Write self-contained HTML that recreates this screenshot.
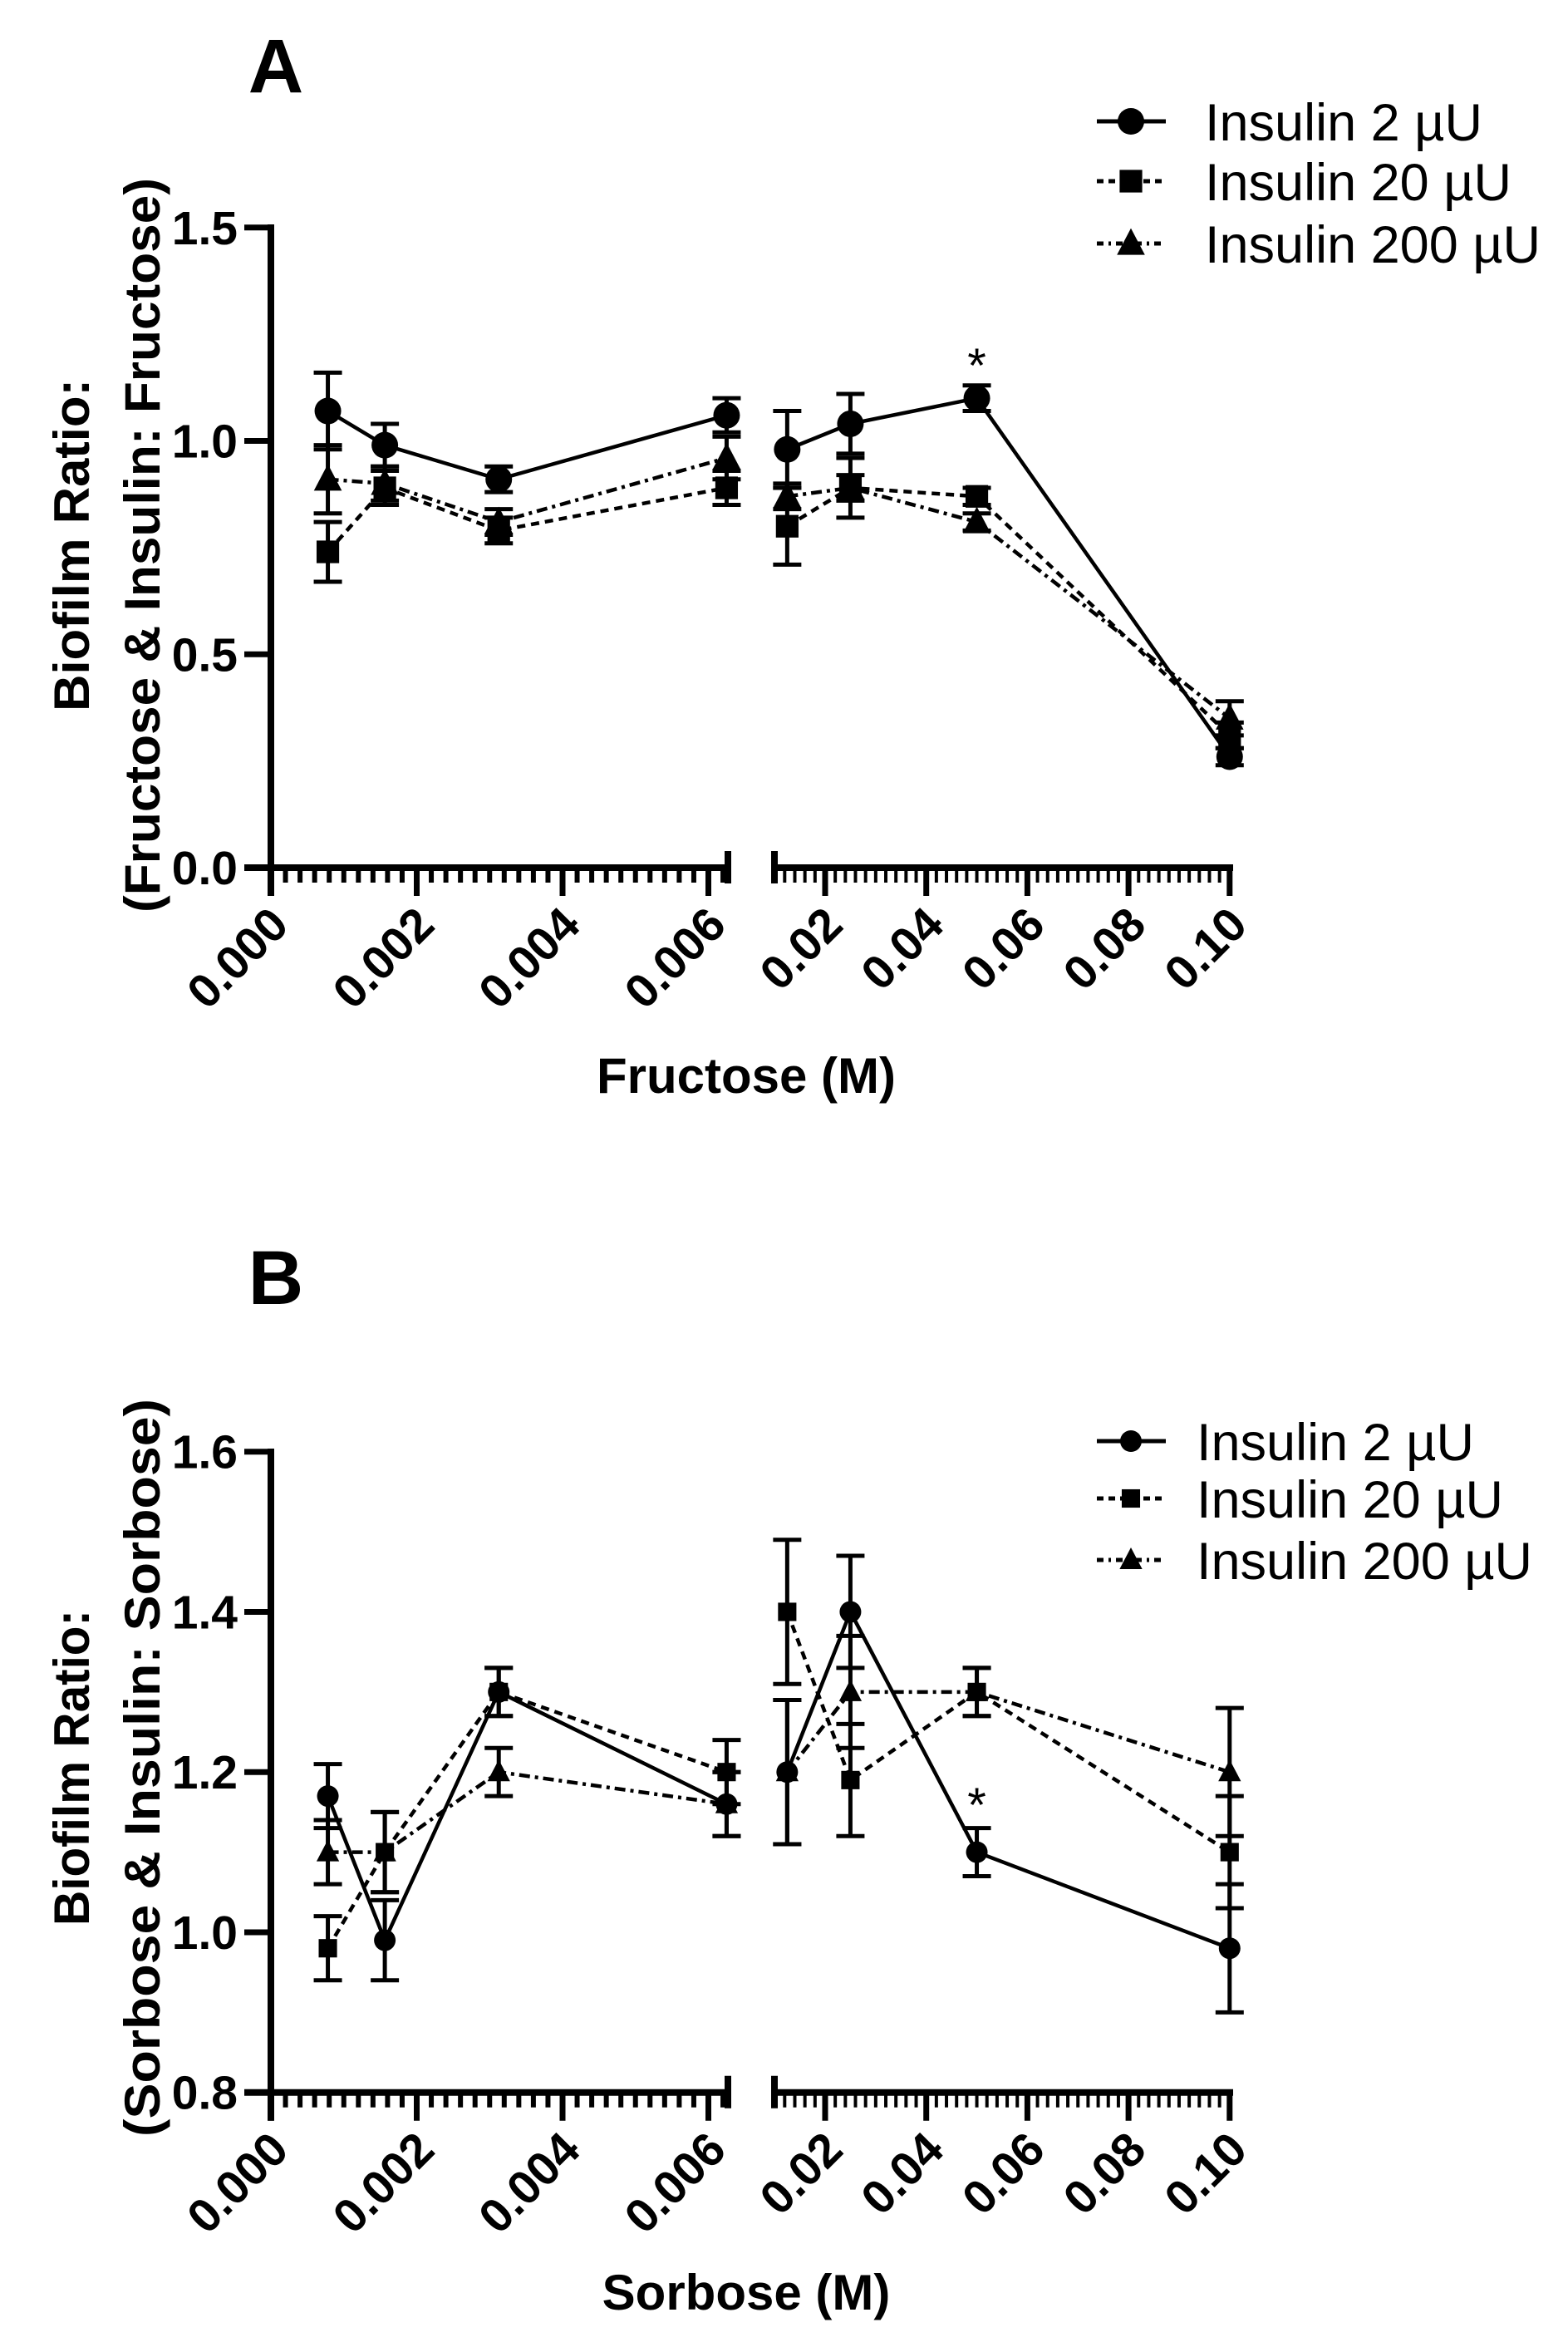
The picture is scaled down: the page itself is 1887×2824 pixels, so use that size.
<!DOCTYPE html>
<html><head><meta charset="utf-8"><style>
html,body{margin:0;padding:0;background:#fff;}
svg{display:block;font-family:"Liberation Sans",Arial,sans-serif;}
</style></head><body>
<svg id="fig" width="1887" height="2824" viewBox="0 0 1887 2824" xmlns="http://www.w3.org/2000/svg"></svg>
<script>
// ---- data ----
const concentrations = [0.00078125, 0.0015625, 0.003125, 0.00625, 0.0125, 0.025, 0.05, 0.1];
const seriesNames = ["Insulin 2 µU", "Insulin 20 µU", "Insulin 200 µU"];
const fructose2 = [1.07, 0.99, 0.91, 1.06, 0.98, 1.04, 1.10, 0.26];
const fructose2Err = [0.09, 0.05, 0.03, 0.04, 0.09, 0.07, 0.03, 0.02];
const fructose20 = [0.74, 0.89, 0.79, 0.89, 0.80, 0.89, 0.87, 0.31];
const fructose20Err = [0.07, 0.04, 0.03, 0.04, 0.09, 0.07, 0.02, 0.03];
const fructose200 = [0.91, 0.90, 0.81, 0.96, 0.87, 0.89, 0.81, 0.35];
const fructose200Err = [0.08, 0.04, 0.03, 0.05, 0.03, 0.03, 0.02, 0.04];
const sorbose2 = [1.17, 0.99, 1.30, 1.16, 1.20, 1.40, 1.10, 0.98];
const sorbose2Err = [0.04, 0.05, 0.03, 0.04, 0.09, 0.07, 0.03, 0.08];
const sorbose20 = [0.98, 1.10, 1.30, 1.20, 1.40, 1.19, 1.30, 1.10];
const sorbose20Err = [0.04, 0.05, 0.03, 0.04, 0.09, 0.07, 0.03, 0.07];
const sorbose200 = [1.10, 1.10, 1.20, 1.16, 1.20, 1.30, 1.30, 1.20];
const sorbose200Err = [0.04, 0.05, 0.03, 0.04, 0.09, 0.07, 0.03, 0.08];
const leftTickLabels = ["0.000", "0.002", "0.004", "0.006"];
const leftTickValues = [0, 0.002, 0.004, 0.006];
const rightTickLabels = ["0.02", "0.04", "0.06", "0.08", "0.10"];
const rightTickValues = [0.02, 0.04, 0.06, 0.08, 0.10];
const yTicksA = [0, 0.5, 1.0, 1.5];
const yTicksB = [0.8, 1.0, 1.2, 1.4, 1.6];

const NS = "http://www.w3.org/2000/svg";
const svg = document.getElementById("fig");
function mk(tag, attrs, parent) {
  const e = document.createElementNS(NS, tag);
  for (const k in attrs) e.setAttribute(k, attrs[k]);
  (parent || svg).appendChild(e);
  return e;
}
function xScale(v) {
  if (v <= 0.0065) return 326 + v * 87750;
  return 871.3 + v * 6085;
}
const dashes = ["", "10 7", "13 6 4 6"];

function marker(g, kind, cx, cy, r) {
  let m;
  if (kind === 0) m = mk("circle", {cx: cx, cy: cy, r: r}, g);
  else if (kind === 1) m = mk("rect", {x: cx - r * 0.85, y: cy - r * 0.85, width: r * 1.7, height: r * 1.7}, g);
  else m = mk("polygon", {points: `${cx},${cy - r * 1.15} ${cx - r * 1.05},${cy + r * 0.85} ${cx + r * 1.05},${cy + r * 0.85}`}, g);
  m.setAttribute("fill", "#000");
  return m;
}

function panel(cfg) {
  const g = mk("g", {});
  
  
  const y = v => cfg.y0 - (v - cfg.ymin) * cfg.ppu;
  const L = mk("text", {x: 332, y: cfg.letterY, "font-size": 92, "font-weight": "bold", "text-anchor": "middle"}, g);
  L.textContent = cfg.letter;
  
  
  const ya = mk("g", {}, g);
  
  
  mk("line", {x1: 326, x2: 326, y1: cfg.yTop, y2: cfg.y0 + 34, stroke: "#000", "stroke-width": 8}, ya);
  cfg.yTicks.forEach(t => {
    mk("line", {x1: 294, x2: 326, y1: y(t), y2: y(t), stroke: "#000", "stroke-width": 7}, ya);
    const tl = mk("text", {x: 286, y: y(t) + 20, "font-size": 57, "font-weight": "bold", "text-anchor": "end"}, ya);
    tl.textContent = t.toFixed(1);
    
    
  });
  const yt1 = mk("text", {x: 0, y: 0, "font-size": 60, "font-weight": "bold", "text-anchor": "middle", textLength: cfg.yTitle1Len, lengthAdjust: "spacingAndGlyphs", transform: `translate(107,${cfg.yTitleY}) rotate(-90)`}, g);
  yt1.textContent = "Biofilm Ratio:";
  
  
  const yt2 = mk("text", {x: 0, y: 0, "font-size": 60, "font-weight": "bold", "text-anchor": "middle", textLength: cfg.yTitle2Len, lengthAdjust: "spacingAndGlyphs", transform: `translate(192,${cfg.yTitleY}) rotate(-90)`}, g);
  yt2.textContent = cfg.yTitle2;
  
  
  const xa = mk("g", {}, g);
  
  
  const ay = cfg.y0;
  mk("line", {x1: 294, x2: 880, y1: ay, y2: ay, stroke: "#000", "stroke-width": 8}, xa);
  mk("line", {x1: 928, x2: 1484, y1: ay, y2: ay, stroke: "#000", "stroke-width": 8}, xa);
  mk("line", {x1: 876, x2: 876, y1: ay - 20, y2: ay + 19, stroke: "#000", "stroke-width": 8}, xa);
  mk("line", {x1: 932, x2: 932, y1: ay - 20, y2: ay + 19, stroke: "#000", "stroke-width": 8}, xa);
  for (let i = 1; i <= 31; i++) {
    if (i % 10 === 0) continue;
    const xx = xScale(i * 0.0002);
    mk("line", {x1: xx, x2: xx, y1: ay, y2: ay + 18, stroke: "#000", "stroke-width": 6}, xa);
  }
  for (let i = 6; i <= 49; i++) {
    if (i % 10 === 0) continue;
    const xx = xScale(i * 0.002);
    mk("line", {x1: xx, x2: xx, y1: ay, y2: ay + 18, stroke: "#000", "stroke-width": 4}, xa);
  }
  const ticks = leftTickValues.map((v, i) => [v, leftTickLabels[i]]).concat(rightTickValues.map((v, i) => [v, rightTickLabels[i]]));
  ticks.forEach(([v, lab]) => {
    const xx = xScale(v);
    mk("line", {x1: xx, x2: xx, y1: ay, y2: ay + 34, stroke: "#000", "stroke-width": 7}, xa);
    const tl = mk("text", {x: 0, y: 0, "font-size": 57, "font-weight": "bold", "text-anchor": "end", transform: `translate(${xx + 24},${ay + 72}) rotate(-45)`}, xa);
    tl.textContent = lab;
    
    
  });
  const xt = mk("text", {x: 898, y: cfg.xTitleY, "font-size": 60, "font-weight": "bold", "text-anchor": "middle"}, g);
  xt.textContent = cfg.xTitle;
  
  
  cfg.series.forEach((s, k) => {
    const sg = mk("g", {}, g);
    
    
    const pts = concentrations.map((c, i) => [xScale(c), y(s.v[i])]);
    const segA = pts.slice(0, 4).map(p => p.join(",")).join(" ");
    const segB = pts.slice(4).map(p => p.join(",")).join(" ");
    [segA, segB].forEach(pp => {
      const pl = mk("polyline", {points: pp, fill: "none", stroke: "#000", "stroke-width": 4.5}, sg);
      if (dashes[k]) pl.setAttribute("stroke-dasharray", dashes[k]);
      
      
    });
    concentrations.forEach((c, i) => {
      const cx = xScale(c), e = s.e[i];
      const top = y(s.v[i] + e), bot = y(s.v[i] - e);
      mk("line", {x1: cx, x2: cx, y1: top, y2: bot, stroke: "#000", "stroke-width": 5}, sg);
      mk("line", {x1: cx - 17, x2: cx + 17, y1: top, y2: top, stroke: "#000", "stroke-width": 5}, sg);
      mk("line", {x1: cx - 17, x2: cx + 17, y1: bot, y2: bot, stroke: "#000", "stroke-width": 5}, sg);
      const m = marker(sg, k, cx, y(s.v[i]), cfg.mr);
      
      
    });
  });
  const st = mk("text", {x: xScale(0.05), y: cfg.starY, "font-size": 58, "text-anchor": "middle"}, g);
  st.textContent = "*";
  
  
  const lg = mk("g", {}, g);
  
  
  cfg.legendY.forEach((ly, k) => {
    const le = mk("g", {}, lg);
    
    
    const ln = mk("line", {x1: 1320, x2: 1403, y1: ly, y2: ly, stroke: "#000", "stroke-width": 5}, le);
    if (dashes[k]) ln.setAttribute("stroke-dasharray", k === 1 ? "8 6" : "8 6 3 6");
    marker(le, k, 1361, ly, cfg.mr);
    const t = mk("text", {x: cfg.legendX, y: ly + 23, "font-size": 63}, le);
    t.textContent = seriesNames[k];
  });
}

panel({
  name: "panel-a-fructose", letter: "A", letterY: 111, ymin: 0, y0: 1044, ppu: 513.5, yTop: 270,
  yTicks: yTicksA, yTitleY: 656, yTitle1Len: 400, yTitle2: "(Fructose & Insulin: Fructose)", yTitle2Len: 884,
  xTitle: "Fructose (M)", xTitleY: 1315, mr: 16, starY: 460, legendX: 1450, legendY: [146, 218, 293],
  series: [{v: fructose2, e: fructose2Err}, {v: fructose20, e: fructose20Err}, {v: fructose200, e: fructose200Err}]
});
panel({
  name: "panel-b-sorbose", letter: "B", letterY: 1569, ymin: 0.8, y0: 2517.7, ppu: 963.75, yTop: 1743,
  yTicks: yTicksB, yTitleY: 2127, yTitle1Len: 380, yTitle2: "(Sorbose & Insulin: Sorbose)", yTitle2Len: 888,
  xTitle: "Sorbose (M)", xTitleY: 2779, mr: 13, starY: 2192, legendX: 1440, legendY: [1734, 1803, 1877],
  series: [{v: sorbose2, e: sorbose2Err}, {v: sorbose20, e: sorbose20Err}, {v: sorbose200, e: sorbose200Err}]
});
</script>
</body></html>
